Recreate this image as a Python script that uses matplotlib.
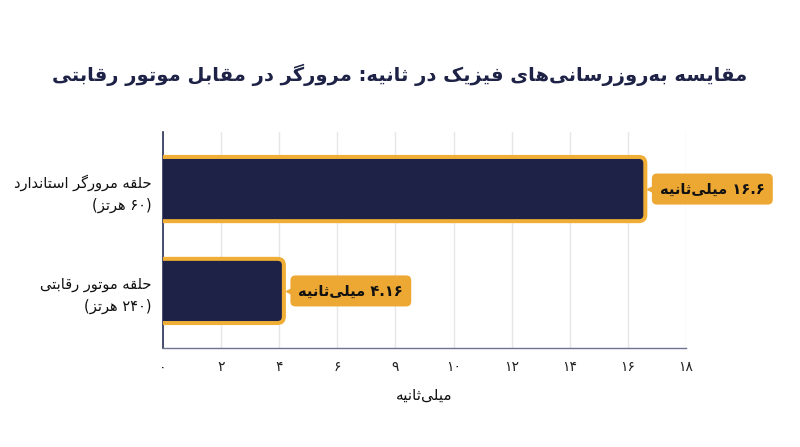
import matplotlib
matplotlib.use("Agg")
import matplotlib.pyplot as plt
from matplotlib import font_manager
from matplotlib.ft2font import FT2Font
from matplotlib.patches import FancyBboxPatch
from matplotlib.transforms import offset_copy

# --- data -------------------------------------------------------------
title = "مقایسه به\u200cروزرسانی\u200cهای فیزیک در ثانیه: مرورگر در مقابل موتور رقابتی"
categories = ["حلقه مرورگر استاندارد\n(۶۰ هرتز)", "حلقه موتور رقابتی\n(۲۴۰ هرتز)"]
values = [16.6, 4.16]
value_labels = ["۱۶.۶ میلی\u200cثانیه", "۴.۱۶ میلی\u200cثانیه"]
xticks = [0, 2, 4, 6, 8, 10, 12, 14, 16, 18]
xtick_labels = ["۰", "۲", "۴", "۶", "۹", "۱۰", "۱۲", "۱۴", "۱۶", "۱۸"]
xlabel = "میلی\u200cثانیه"

NAVY = "#1d2246"
GOLD = "#f0ae36"
LABEL_BG = "#eda833"

# --- minimal arabic/persian shaping (no reshaper lib available) ------
FORMS = {
    "\u0627": (0xFE8D, 0xFE8E, None, None),
    "\u0628": (0xFE8F, 0xFE90, 0xFE91, 0xFE92),
    "\u062A": (0xFE95, 0xFE96, 0xFE97, 0xFE98),
    "\u062B": (0xFE99, 0xFE9A, 0xFE9B, 0xFE9C),
    "\u062C": (0xFE9D, 0xFE9E, 0xFE9F, 0xFEA0),
    "\u062D": (0xFEA1, 0xFEA2, 0xFEA3, 0xFEA4),
    "\u062E": (0xFEA5, 0xFEA6, 0xFEA7, 0xFEA8),
    "\u062F": (0xFEA9, 0xFEAA, None, None),
    "\u0630": (0xFEAB, 0xFEAC, None, None),
    "\u0631": (0xFEAD, 0xFEAE, None, None),
    "\u0632": (0xFEAF, 0xFEB0, None, None),
    "\u0633": (0xFEB1, 0xFEB2, 0xFEB3, 0xFEB4),
    "\u0634": (0xFEB5, 0xFEB6, 0xFEB7, 0xFEB8),
    "\u0635": (0xFEB9, 0xFEBA, 0xFEBB, 0xFEBC),
    "\u0637": (0xFEC1, 0xFEC2, 0xFEC3, 0xFEC4),
    "\u0639": (0xFEC9, 0xFECA, 0xFECB, 0xFECC),
    "\u0641": (0xFED1, 0xFED2, 0xFED3, 0xFED4),
    "\u0642": (0xFED5, 0xFED6, 0xFED7, 0xFED8),
    "\u0644": (0xFEDD, 0xFEDE, 0xFEDF, 0xFEE0),
    "\u0645": (0xFEE1, 0xFEE2, 0xFEE3, 0xFEE4),
    "\u0646": (0xFEE5, 0xFEE6, 0xFEE7, 0xFEE8),
    "\u0647": (0xFEE9, 0xFEEA, 0xFEEB, 0xFEEC),
    "\u0648": (0xFEED, 0xFEEE, None, None),
    "\u0698": (0xFB8A, 0xFB8B, None, None),
    "\u06A9": (0xFB8E, 0xFB8F, 0xFB90, 0xFB91),
    "\u06AF": (0xFB92, 0xFB93, 0xFB94, 0xFB95),
    "\u06CC": (0xFBFC, 0xFBFD, 0xFBFE, 0xFBFF),
}
FALLBACK = {
    0xFBFC: 0xFEEF, 0xFBFD: 0xFEF0, 0xFBFE: 0xFEF3, 0xFBFF: 0xFEF4,
    0xFB8E: 0xFED9, 0xFB8F: 0xFEDA, 0xFB90: 0xFEDB, 0xFB91: 0xFEDC,
}
DIGITS = set("0123456789۰۱۲۳۴۵۶۷۸۹")
MIRROR = {"(": ")", ")": "("}

_path = font_manager.findfont(font_manager.FontProperties(family="DejaVu Sans", weight="bold"))
_cmap = FT2Font(_path).get_charmap()


def glyph(cp):
    if cp not in _cmap and cp in FALLBACK:
        cp = FALLBACK[cp]
    return chr(cp)


def shape(text):
    out = []
    for i, c in enumerate(text):
        if c == "\u200c":
            continue
        if c not in FORMS:
            out.append(c)
            continue
        prev = text[i - 1] if i > 0 else ""
        nxt = text[i + 1] if i + 1 < len(text) else ""
        iso, fin, ini, med = FORMS[c]
        j_prev = prev in FORMS and FORMS[prev][2] is not None
        j_next = ini is not None and nxt in FORMS
        if j_prev and j_next:
            cp = med
        elif j_prev:
            cp = fin
        elif j_next:
            cp = ini
        else:
            cp = iso
        out.append(glyph(cp))
    return "".join(out)


def visual_line(text):
    s = shape(text)
    tokens = []
    i = 0
    while i < len(s):
        if s[i] in DIGITS:
            j = i
            while j < len(s) and (s[j] in DIGITS or (s[j] == "." and j + 1 < len(s) and s[j + 1] in DIGITS)):
                j += 1
            tokens.append(s[i:j])
            i = j
        else:
            tokens.append(MIRROR.get(s[i], s[i]))
            i += 1
    return "".join(reversed(tokens))


def fa(text):
    return "\n".join(visual_line(t) for t in text.split("\n"))


# --- plot -------------------------------------------------------------
plt.rcParams["font.family"] = ["DejaVu Sans"]

fig = plt.figure(figsize=(8, 4.47), dpi=100)
ax = fig.add_axes([0.20375, 0.2215, 0.65375, 0.4832])

ypos = list(range(len(values)))
bar_h = 0.63
for y, v in zip(ypos, values):
    box = FancyBboxPatch((-0.5, y - bar_h / 2), v + 0.5, bar_h,
                         boxstyle="round,pad=0,rounding_size=0.22",
                         mutation_aspect=0.285,
                         facecolor=NAVY, edgecolor=GOLD, linewidth=2.9, zorder=3)
    ax.add_patch(box)

for y, v, lab in zip(ypos, values, value_labels):
    tri = offset_copy(ax.transData, fig=fig, x=7, y=0, units="dots")
    ax.plot([v], [y], marker="<", markersize=7, color=LABEL_BG, transform=tri,
            zorder=4, clip_on=False)
    ax.annotate(fa(lab), xy=(v, y), xytext=(10.5, 0), textcoords="offset points",
                ha="left", va="center", fontsize=10.5, fontweight="bold", color="#111111",
                bbox=dict(boxstyle="round,pad=0.55,rounding_size=0.35", fc=LABEL_BG, ec="none"),
                zorder=5, annotation_clip=False)

ax.set_xlim(0, 18)
ax.set_ylim(1.56, -0.56)
ax.set_xticks(xticks)
ax.set_xticklabels([fa(t) for t in xtick_labels], fontsize=10, color="#222222")
ax.set_yticks(ypos)
ax.set_yticklabels([fa(c) for c in categories], fontsize=10.5, color="#111111",
                   linespacing=1.55, ha="right")
ax.tick_params(axis="both", length=0)
ax.tick_params(axis="x", pad=9)
ax.tick_params(axis="y", pad=8)

ax.grid(axis="x", color="#e6e6e9", linewidth=1, zorder=0)
ax.set_axisbelow(True)
for side in ["top", "right"]:
    ax.spines[side].set_visible(False)
ax.spines["left"].set_color("#2a2f55")
ax.spines["left"].set_linewidth(1.2)
ax.spines["bottom"].set_color("#6f7590")
ax.spines["bottom"].set_linewidth(1.0)

fig.text(0.53, 0.116, fa(xlabel), ha="center", va="center", fontsize=11, color="#111111")
fig.text(0.5, 0.832, fa(title), ha="center", va="center", fontsize=14,
         fontweight="bold", color=NAVY)

fig.savefig("out.png", dpi=100, facecolor="white")
